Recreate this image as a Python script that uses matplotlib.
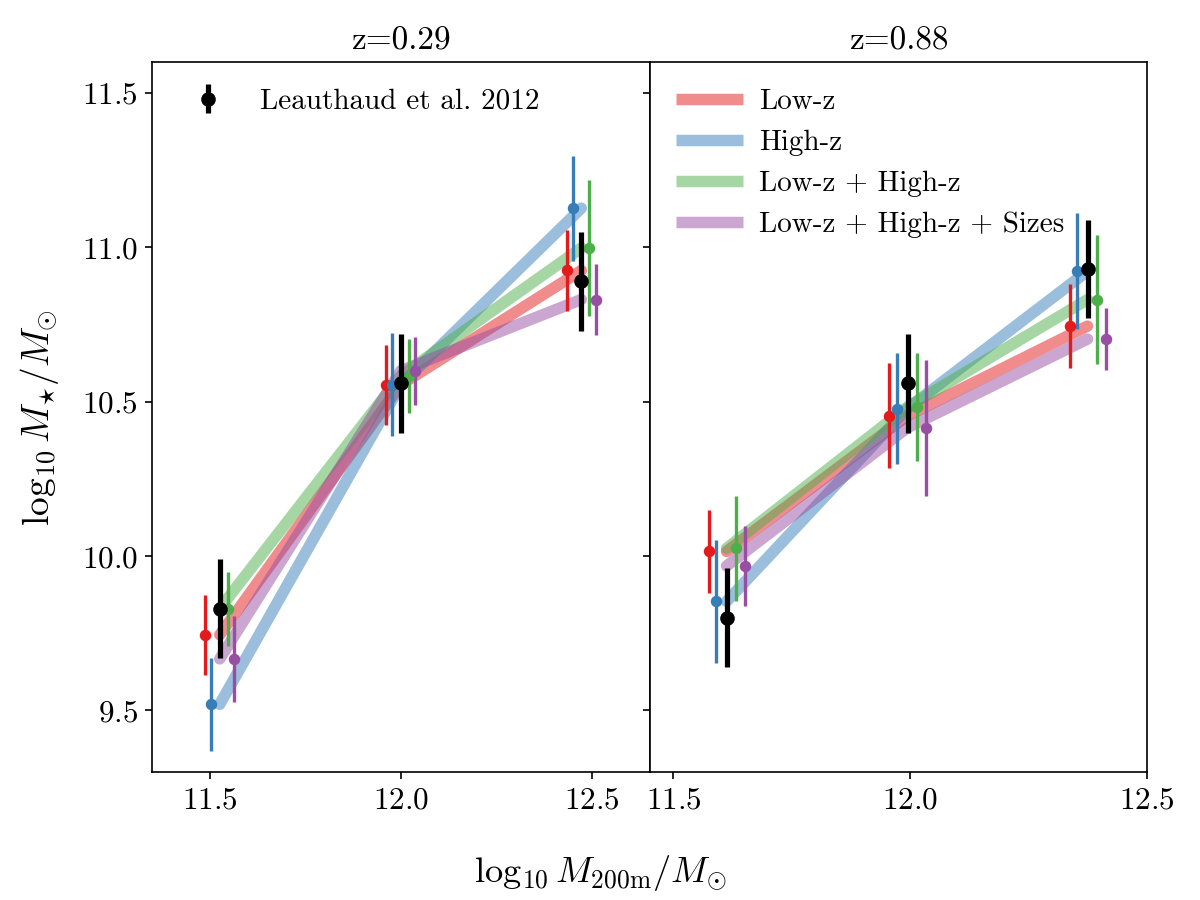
import matplotlib
matplotlib.use('Agg')
import matplotlib.pyplot as plt

plt.rcParams['font.family'] = 'serif'
plt.rcParams['font.serif'] = ['cmr10']
plt.rcParams['mathtext.fontset'] = 'cm'
plt.rcParams['axes.formatter.use_mathtext'] = True

redshifts = ['0.29', '0.88']
series = ['Low-z', 'High-z', 'Low-z + High-z', 'Low-z + High-z + Sizes']
colors = ['#e41a1c', '#377eb8', '#4daf4a', '#984ea3']
offsets = [-0.038, -0.022, 0.021, 0.038]

# Leauthaud et al. 2012 (one list per redshift)
leau_x = [[11.526, 11.999, 12.471], [11.612, 11.994, 12.374]]
leau_y = [[9.83, 10.56, 10.89], [9.80, 10.56, 10.93]]
leau_err = [[0.16, 0.16, 0.16], [0.16, 0.16, 0.16]]

# model fits (one list per redshift)
lowz_y = [[9.745, 10.555, 10.925], [10.015, 10.455, 10.745]]
lowz_err = [[0.13, 0.13, 0.13], [0.135, 0.17, 0.135]]
highz_y = [[9.52, 10.555, 11.127], [9.853, 10.478, 10.923]]
highz_err = [[0.15, 0.167, 0.17], [0.2, 0.18, 0.187]]
both_y = [[9.83, 10.584, 10.998], [10.025, 10.483, 10.831]]
both_err = [[0.12, 0.12, 0.22], [0.17, 0.175, 0.21]]
sizes_y = [[9.667, 10.60, 10.831], [9.968, 10.416, 10.703]]
sizes_err = [[0.14, 0.11, 0.115], [0.13, 0.22, 0.10]]

fit_y = [lowz_y, highz_y, both_y, sizes_y]
fit_err = [lowz_err, highz_err, both_err, sizes_err]
xlims = [(11.35, 12.65), (11.45, 12.5)]

fig, axes = plt.subplots(1, 2, figsize=(8, 6), dpi=150, sharey=True)
fig.subplots_adjust(left=0.127, right=0.956, top=0.931, bottom=0.142, wspace=0)

for i, ax in enumerate(axes):
    xs = leau_x[i]
    for k in range(len(series)):
        ax.plot(xs, fit_y[k][i], color=colors[k], lw=5.5, alpha=0.5,
                solid_capstyle='round', label=series[k], zorder=1)
    for k in range(len(series)):
        xo = [x + offsets[k] for x in xs]
        ax.errorbar(xo, fit_y[k][i], yerr=fit_err[k][i], fmt='o', color=colors[k],
                    ms=4.5, elinewidth=1.6, capsize=0, zorder=2)
    ax.errorbar(xs, leau_y[i], yerr=leau_err[i], fmt='o', color='black',
                ms=6, elinewidth=2.5, capsize=0, zorder=3,
                label='Leauthaud et al. 2012')

    ax.set_xlim(*xlims[i])
    ax.set_xticks([11.5, 12.0, 12.5])
    ax.set_title('z=' + redshifts[i], fontsize=16)
    ax.tick_params(labelsize=15)

axes[0].set_ylim(9.3, 11.6)
axes[0].set_yticks([9.5, 10.0, 10.5, 11.0, 11.5])
axes[0].set_ylabel(r'$\log_{10} M_{\star}/M_{\odot}$', fontsize=18, labelpad=10)

h, l = axes[0].get_legend_handles_labels()
axes[0].legend(h[-1:], l[-1:], loc='upper left', frameon=False, fontsize=14)
h, l = axes[1].get_legend_handles_labels()
leg = axes[1].legend(h[:4], l[:4], loc='upper left', frameon=False, fontsize=14,
                     handlelength=2.3, handletextpad=0.55)
for line in leg.get_lines():
    line.set_solid_capstyle('butt')

fig.supxlabel(r'$\log_{10} M_{\mathrm{200m}}/M_{\odot}$', x=0.5, y=0.03,
              va='center', fontsize=17.5)

plt.savefig('out.png', dpi=150)
